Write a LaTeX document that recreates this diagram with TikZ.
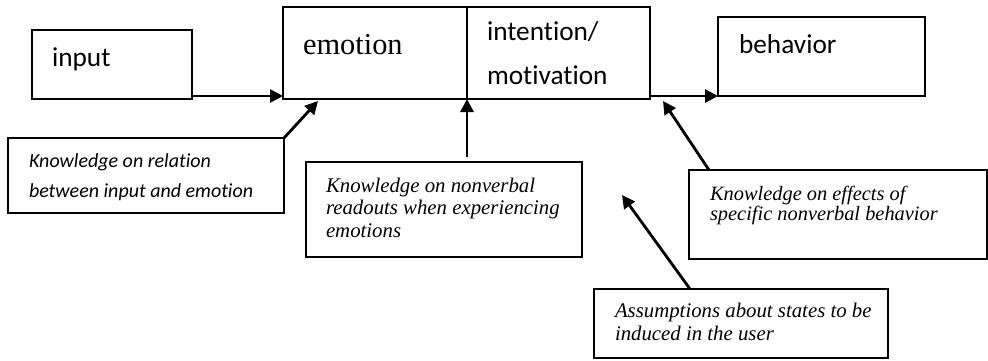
\documentclass[tikz,border=0pt]{standalone}
\usepackage{fontspec}
\setmainfont{Liberation Serif}
\newfontfamily\calibri[Ligatures=NoCommon]{Carlito}
\usetikzlibrary{arrows.meta,calc}

\begin{document}
\begin{tikzpicture}[x=0.5pt,y=-0.5pt,
  box/.style={draw, line width=1pt, inner sep=0pt, outer sep=0pt},
  % multi-line labels are placed by the baseline of their last line
  lbl/.style={inner sep=0pt, outer sep=0pt, anchor=base west, align=left},
  sanslbl/.style={lbl, font=\calibri\fontsize{13.65}{22}\selectfont},
  seriflbl/.style={lbl, font=\fontsize{15.2}{18}\selectfont},
  sansnote/.style={lbl, font=\calibri\itshape\fontsize{10}{15}\selectfont},
  serifnote/.style={lbl, font=\itshape\fontsize{10.4}{11.25}\selectfont},
  arr/.style={line width=1.4pt, -{Triangle[length=6.5pt,width=6.5pt]}}
]
\useasboundingbox (0,0) rectangle (988,360);

% main chain
\node[box, minimum width=80pt, minimum height=34.5pt] (input) at (112,64.5) {};
\node[box, minimum width=92pt, minimum height=46pt] (emobox) at (375,53) {};
\node[box, minimum width=91.5pt, minimum height=46pt] (intbox) at (558.5,53) {};
\node[box, minimum width=103.5pt, minimum height=39.5pt] (behavior) at (821.5,56.5) {};

\node[sanslbl] (tinput) at (52,66) {input};
\node[seriflbl] (temo) at (303,54) {emotion};
\node[sanslbl] (tint) at (487,84) {intention/\\motivation};
\node[sanslbl] (tbeh) at (739,53) {behavior};

% knowledge sources
\node[box, minimum width=138pt, minimum height=37.5pt] (k1) at (146,175.5) {};
\node[box, minimum width=138pt, minimum height=47.5pt] (k2) at (444,209.5) {};
\node[box, minimum width=149pt, minimum height=44.5pt] (k3) at (838,214.5) {};
\node[box, minimum width=147pt, minimum height=34.5pt] (k4) at (741,323.5) {};

\node[sansnote] (tk1) at (29,197) {Knowledge on relation\\between input and emotion};
\node[serifnote] (tk2) at (326,237) {Knowledge on nonverbal\\readouts when experiencing\\emotions};
\node[serifnote, font=\itshape\fontsize{10.2}{10}\selectfont] (tk3) at (710,220) {Knowledge on effects of\\specific nonverbal behavior};
\node[serifnote, font=\itshape\fontsize{10.4}{11.5}\selectfont] (tk4) at (615,340) {Assumptions about states to be\\induced in the user};

\coordinate (userstate) at (622,195);

% connectors
\draw[arr] ([yshift=1.5pt]input.south east) -- ([yshift=1.5pt]input.south east -| emobox.west);
\draw[arr] ([yshift=1.5pt]intbox.south east) -- ([yshift=1.5pt]intbox.south east -| behavior.west);
\draw[arr] (k1.north east) -- ([xshift=17.5pt,yshift=-1pt]emobox.south west);
\draw[arr] ([xshift=11.5pt,yshift=2.5pt]k2.north) -- (emobox.south east);
\draw[arr] ([xshift=10pt]k3.north west) -- ([xshift=6.5pt,yshift=-1pt]intbox.south east);
\draw[arr] ([xshift=48pt]k4.north west) -- (userstate);
\end{tikzpicture}
\end{document}
